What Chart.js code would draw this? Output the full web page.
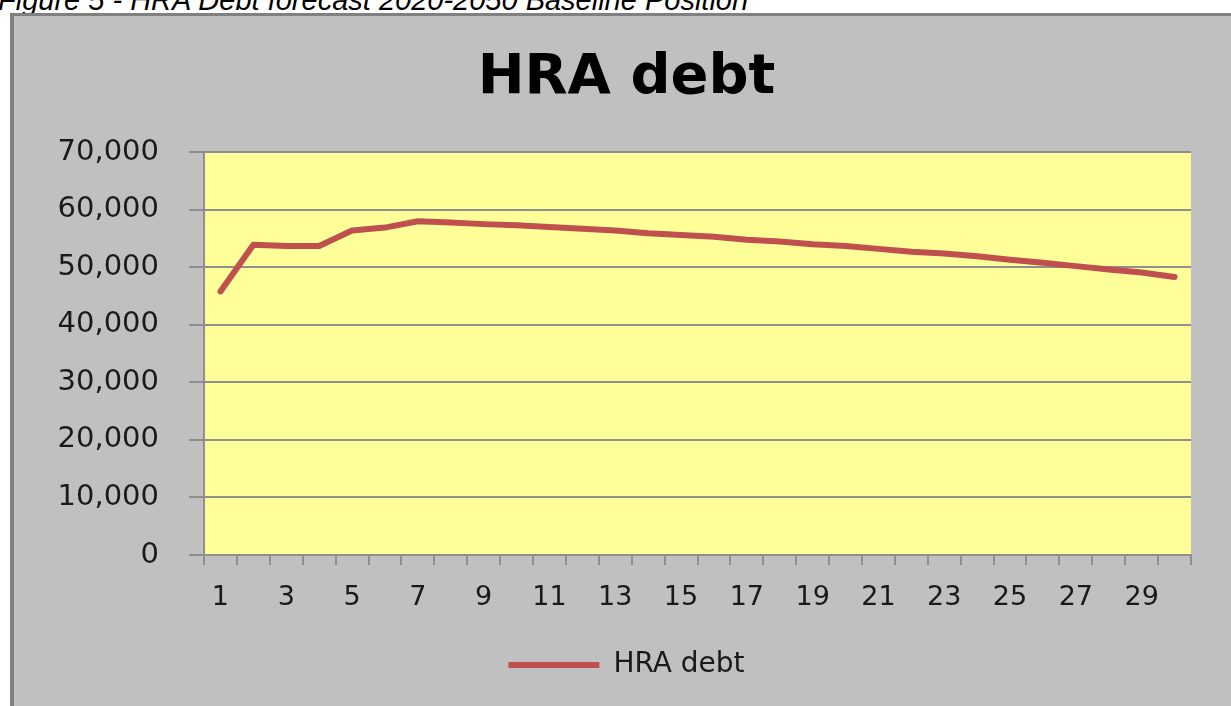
<!DOCTYPE html>
<html>
<head>
<meta charset="utf-8">
<title>HRA debt</title>
<script src="https://cdn.jsdelivr.net/npm/chart.js@4"></script>
<style>
  body { margin: 0; background: #fff; width: 1231px; height: 706px; overflow: hidden; position: relative; }
  .caption { position: absolute; left: -2px; top: -16px; font: italic 29px 'Liberation Sans', Arial, sans-serif; color: #000; white-space: nowrap; }
  .frame { position: absolute; left: 10px; top: 13px; width: 1240px; height: 720px; background: #c0c0c0; border-left: 4px solid #808080; border-top: 3px solid #808080; }
  .chart-box { position: absolute; left: 14px; top: 16px; width: 1217px; height: 690px; }
</style>
</head>
<body>
<div class="caption">Figure 5 - HRA Debt forecast 2020-2050 Baseline Position</div>
<div class="frame"></div>
<div class="chart-box"><canvas id="debt"></canvas></div>
<script>
// years 1..30 of the plan
const years = ['1', '2', '3', '4', '5', '6', '7', '8', '9', '10',
  '11', '12', '13', '14', '15', '16', '17', '18', '19', '20',
  '21', '22', '23', '24', '25', '26', '27', '28', '29', '30'];

const hraDebt = [45800, 53900, 53700, 53700, 56400, 56900, 58000, 57800, 57500, 57300,
  57000, 56700, 56400, 55900, 55600, 55300, 54800, 54500, 54000, 53700,
  53200, 52700, 52400, 51900, 51300, 50800, 50200, 49600, 49100, 48300];

const yTicks = [0, 10000, 20000, 30000, 40000, 50000, 60000, 70000];

const gridGrey = '#8f8f8f';
const fontFamily = "'DejaVu Sans', Verdana, sans-serif";

// yellow plot area like the Excel original
const plotBackground = {
  id: 'plotBackground',
  beforeDraw(chart) {
    const {ctx, chartArea: a} = chart;
    ctx.save();
    ctx.fillStyle = '#ffff99';
    ctx.fillRect(a.left, a.top, a.right - a.left, a.bottom - a.top);
    ctx.restore();
  }
};

const ctx = document.getElementById('debt').getContext('2d');

new Chart(ctx, {
  type: 'line',
  data: {
    labels: years,
    datasets: [{
      label: 'HRA debt',
      data: hraDebt,
      borderColor: '#c0504d',
      backgroundColor: '#c0504d',
      borderWidth: 6,
      borderCapStyle: 'round',
      borderJoinStyle: 'round',
      pointRadius: 0,
      tension: 0,
      fill: false
    }]
  },
  options: {
    responsive: true,
    maintainAspectRatio: false,
    animation: false,
    layout: {
      padding: {left: 20, right: 12, top: 0, bottom: 17}
    },
    scales: {
      x: {
        offset: true,
        grid: {
          offset: true,
          drawOnChartArea: false,
          color: gridGrey,
          lineWidth: 2,
          tickLength: 10
        },
        border: {color: gridGrey, width: 2},
        ticks: {
          autoSkip: false,
          maxRotation: 0,
          padding: 17,
          color: '#1a1a1a',
          font: {family: fontFamily, size: 27},
          callback: (v, i) => i % 2 === 0 ? years[i] : ''
        },
        afterFit: (scale) => { scale.height = 86; }
      },
      y: {
        min: 0,
        max: 70000,
        afterBuildTicks: (scale) => { scale.ticks = yTicks.map(v => ({value: v})); },
        grid: {
          color: gridGrey,
          lineWidth: 2,
          tickLength: 15
        },
        border: {color: gridGrey, width: 2},
        ticks: {
          padding: 30,
          color: '#1a1a1a',
          font: {family: fontFamily, size: 29},
          callback: (v) => v.toLocaleString('en-US')
        },
        afterFit: (scale) => { scale.width = 170; }
      },
      // empty strip on the right so the title and legend sit where Excel put them
      spacer: {
        position: 'right',
        grid: {display: false},
        border: {display: false},
        ticks: {display: false},
        afterFit: (scale) => { scale.width = 28; }
      }
    },
    plugins: {
      title: {
        display: true,
        text: 'HRA debt',
        color: '#000',
        font: {family: fontFamily, size: 56, weight: 'bold'},
        padding: {top: 29, bottom: 40}
      },
      legend: {
        position: 'bottom',
        labels: {
          usePointStyle: true,
          pointStyle: 'line',
          pointStyleWidth: 91,
          padding: 10,
          color: '#1a1a1a',
          font: {family: fontFamily, size: 28}
        }
      },
      tooltip: {enabled: false}
    }
  },
  plugins: [plotBackground]
});
</script>
</body>
</html>
